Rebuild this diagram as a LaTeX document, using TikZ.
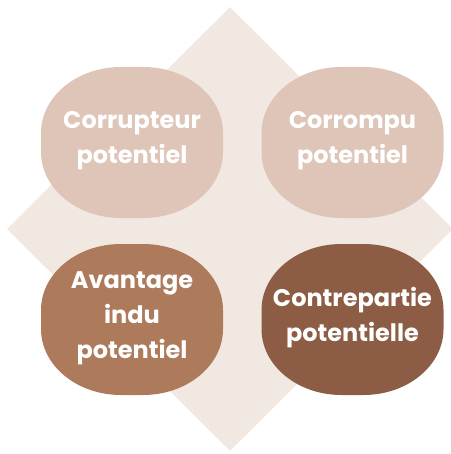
\documentclass[tikz,border=0pt]{standalone}
\usepackage{fontspec}
\setmainfont{Poppins}
\usetikzlibrary{shapes.geometric,backgrounds}

\definecolor{backdrop}{HTML}{F1E8E2}
\definecolor{sandlight}{HTML}{DEC5B8}
\definecolor{clay}{HTML}{AD7A5B}
\definecolor{cocoa}{HTML}{8D5C45}

\begin{document}
\begin{tikzpicture}[
  x=1pt, y=-1pt,
  back/.style={diamond, aspect=1, fill=backdrop, draw=none, inner sep=0pt,
               minimum width=446pt, minimum height=444pt},
  lbl/.style={inner sep=0pt, align=center, text=white,
              font=\fontsize{24}{35}\selectfont\bfseries},
  patch/.pic={
    \fill[pic actions] (-91,-9.5) -- (-91,9.5)
      arc[start angle=180, end angle=90, x radius=80, y radius=66] -- (11,75.5)
      arc[start angle=90, end angle=0, x radius=80, y radius=66] -- (91,-9.5)
      arc[start angle=0, end angle=-90, x radius=80, y radius=66] -- (-11,-75.5)
      arc[start angle=-90, end angle=-180, x radius=80, y radius=66] -- cycle;
  }
]
\useasboundingbox (0,0) rectangle (450,454);

%% top row
\node[lbl] (corrupteur) at (132,141) {Corrupteur\\potentiel};
\node[lbl] (corrompu) at (352.5,141) {Corrompu\\potentiel};

%% bottom row
\node[lbl] (avantage) at (132,318) {Avantage\\indu\\potentiel};
\node[lbl] (contrepartie) at (352.5,318) {Contrepartie\\potentielle};

%% backdrop and blobs behind the labels
\begin{scope}[on background layer]
  \node[back] (diam) at (230,229) {};
  \foreach \n/\c in {corrupteur/sandlight, corrompu/sandlight,
                     avantage/clay, contrepartie/cocoa}
    \pic[fill=\c] at ([yshift=-1.5pt]\n.center) {patch};
\end{scope}
\end{tikzpicture}
\end{document}
